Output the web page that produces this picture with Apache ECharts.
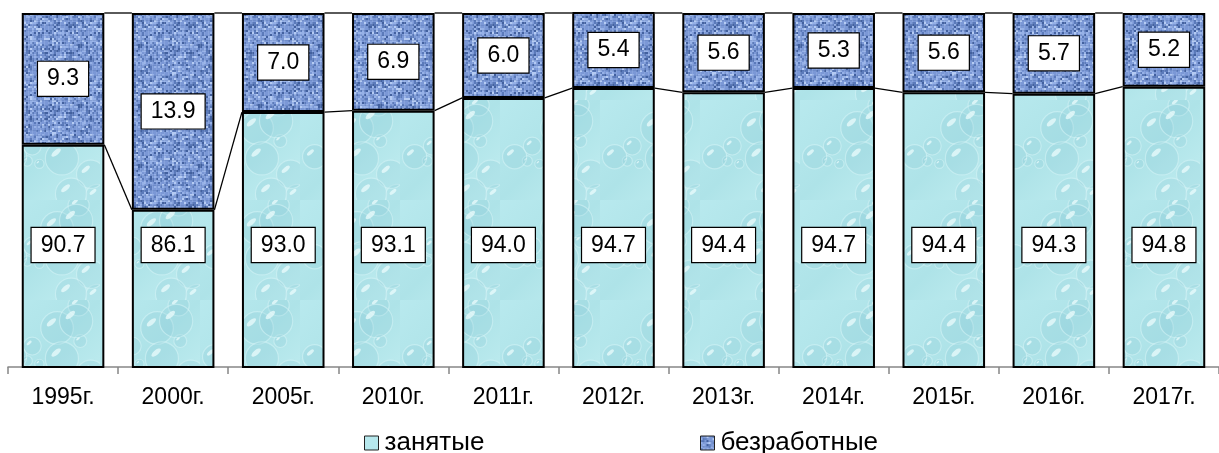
<!DOCTYPE html>
<html>
<head>
<meta charset="utf-8">
<script src="https://cdn.jsdelivr.net/npm/echarts@6/dist/echarts.min.js"></script>
<style>
html,body{margin:0;padding:0;background:#fff;}
#chart{width:1219px;height:453px;}
</style>
</head>
<body>
<div id="chart"></div>
<script>
const categories = ['1995г.','2000г.','2005г.','2010г.','2011г.','2012г.','2013г.','2014г.','2015г.','2016г.','2017г.'];
const employed = [90.7, 86.1, 93.0, 93.1, 94.0, 94.7, 94.4, 94.7, 94.4, 94.3, 94.8];
const unemployed = [9.3, 13.9, 7.0, 6.9, 6.0, 5.4, 5.6, 5.3, 5.6, 5.7, 5.2];
const seriesNames = ['занятые', 'безработные'];

// deterministic pseudo-random, used for fill textures only
let seed = 12345;
function rnd(){ seed = (seed * 1103515245 + 12345) & 0x7fffffff; return seed / 0x7fffffff; }

function denimPattern(){
  const c = document.createElement('canvas'); c.width = 60; c.height = 60;
  const g = c.getContext('2d');
  g.fillStyle = '#7a97d5'; g.fillRect(0,0,60,60);
  for (let y=0;y<60;y+=2){
    for (let x=0;x<60;x+=2){
      const r = rnd();
      let col;
      if (r < 0.10) col = '#43619f';
      else if (r < 0.28) col = '#5b7aba';
      else if (r < 0.72) col = '#7b98d6';
      else if (r < 0.90) col = '#96b1e7';
      else col = '#b5cbf3';
      g.fillStyle = col; g.fillRect(x,y,2,2);
    }
  }
  g.globalAlpha = 0.2;
  for (let y=0;y<60;y+=5){ g.fillStyle = '#3f5d9b'; g.fillRect(0,y,60,1); }
  for (let x=0;x<60;x+=4){ g.fillStyle = '#c0d3f6'; g.fillRect(x,0,1,60); }
  g.globalAlpha = 1;
  return c;
}
function waterPattern(){
  const c = document.createElement('canvas'); c.width = 100; c.height = 100;
  const g = c.getContext('2d');
  const grd = g.createLinearGradient(0,0,100,100);
  grd.addColorStop(0,'#b8e9ee'); grd.addColorStop(0.5,'#aee3e8'); grd.addColorStop(1,'#c2eef1');
  g.fillStyle = grd; g.fillRect(0,0,100,100);
  for (let k=0;k<12;k++){
    const x = rnd()*100, y = rnd()*100, r = 4 + rnd()*13;
    g.beginPath(); g.arc(x,y,r,0,Math.PI*2);
    g.fillStyle = 'rgba(140,205,214,0.25)'; g.fill();
    g.beginPath(); g.arc(x,y,r,0,Math.PI*2);
    g.strokeStyle = 'rgba(220,247,249,0.5)'; g.lineWidth = 1.2; g.stroke();
    g.beginPath(); g.ellipse(x-r*0.35,y-r*0.35,r*0.35,r*0.15,-0.7,0,Math.PI*2);
    g.fillStyle = 'rgba(240,253,254,0.7)'; g.fill();
  }
  return c;
}
const denim = denimPattern();
const water = waterPattern();

const n = categories.length;
const lowerLines = employed.map((v,i)=>[i, v, i<n-1 ? employed[i+1] : v]);
const topLines = employed.map((v,i)=>[i, 100, 100]);

const BAR_FRAC = 0.75;
function renderSeriesLine(params, api){
  const i = api.value(0);
  if (i >= n-1) return null;
  const p1 = api.coord([i, api.value(1)]);
  const p2 = api.coord([i+1, api.value(2)]);
  const hw = api.size([1,0])[0] * BAR_FRAC / 2;
  return {type:'line', shape:{x1:p1[0]+hw, y1:p1[1], x2:p2[0]-hw, y2:p2[1]},
          style:{stroke:'#000', lineWidth:1.3}};
}

const FONT = '"Liberation Sans", Arial, sans-serif';
const labelBox = {
  show:true, color:'#000', fontSize:23, fontFamily:FONT,
  backgroundColor:'#fff', borderColor:'#000', borderWidth:1.2, padding:[6,9,5,9],
  formatter: p => p.value.toFixed(1)
};
const legendCommon = {top:425, itemWidth:14, itemHeight:14, itemGap:0, icon:'rect',
  textStyle:{fontSize:26, fontFamily:FONT, color:'#000', padding:[0,0,0,1]},
  itemStyle:{borderColor:'#222', borderWidth:1}};

const chart = echarts.init(document.getElementById('chart'), null, {renderer:'canvas'});
chart.setOption({
  animation:false,
  grid:{left:8, right:-9, top:13, bottom:86},
  legend:[
    Object.assign({data:[seriesNames[0]], left:359}, legendCommon),
    Object.assign({data:[seriesNames[1]], left:695}, legendCommon)
  ],
  xAxis:{type:'category', data:categories, boundaryGap:true,
    axisLine:{lineStyle:{color:'#868686', width:1.5}},
    axisTick:{show:true, length:7, lineStyle:{color:'#868686', width:1.5}},
    axisLabel:{fontSize:23, fontFamily:FONT, color:'#000', margin:19}},
  yAxis:{type:'value', min:75, max:100, show:false, splitLine:{show:false}},
  series:[
    {name:seriesNames[0], type:'bar', stack:'s', data:employed, barCategoryGap:'25%',
     itemStyle:{color:{image:water, repeat:'repeat'}, borderColor:'#000', borderWidth:2},
     label:Object.assign({}, labelBox, {position:'insideBottom', distance:106})},
    {name:seriesNames[1], type:'bar', stack:'s', data:unemployed,
     itemStyle:{color:{image:denim, repeat:'repeat'}, borderColor:'#000', borderWidth:2},
     label:Object.assign({}, labelBox, {position:'inside'})},
    {type:'custom', data:lowerLines, renderItem:renderSeriesLine, clip:false, silent:true, z:1,
     encode:{x:0, y:1}},
    {type:'custom', data:topLines, renderItem:renderSeriesLine, clip:false, silent:true, z:1,
     encode:{x:0, y:1}}
  ]
});
</script>
</body>
</html>
